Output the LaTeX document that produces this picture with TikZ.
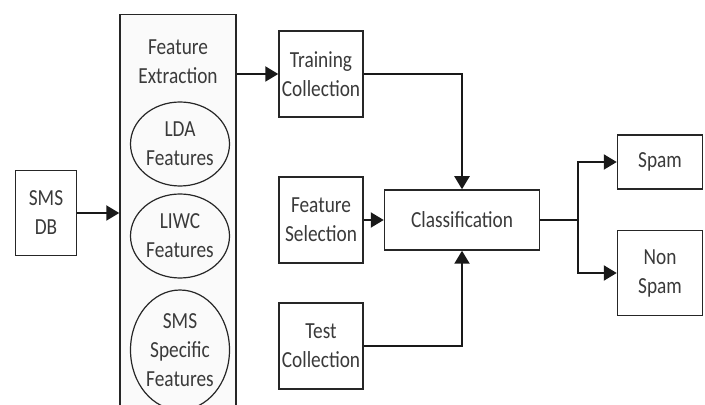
\documentclass[tikz,border=0pt]{standalone}
\usepackage{fontspec}
\setmainfont[FakeStretch=0.84]{Carlito}
\usepackage{tikz}
\usetikzlibrary{arrows.meta, positioning, calc, shapes.geometric}

\definecolor{txtgray}{HTML}{3A3A3A}

\begin{document}
\begin{tikzpicture}[x=0.5pt, y=-0.5pt,
	every node/.style={font=\fontsize{11.5}{14.5}\selectfont, text=txtgray, align=center},
	box/.style={draw=black!85, line width=0.75pt, fill=white, inner sep=1pt},
	oval/.style={draw=black!85, ellipse, line width=0.6pt, inner sep=0pt, minimum width=49.5pt},
	flow/.style={draw=black!90, line width=1.1pt, -{Triangle[length=6.5pt, width=7.5pt]}},
	wire/.style={draw=black!90, line width=1.1pt}]
	\useasboundingbox[fill=white] (0,0) rectangle (705,405);
	% input and feature panel
	\node[box, minimum width=30.5pt, minimum height=42.5pt] (smsdb) at (46,213) {SMS\\DB};
	\node[box, fill=gray!4, minimum width=58pt, minimum height=205pt, anchor=north] (fe) at (178,14) {};
	\node (fetitle) at (178,62) {Feature\\Extraction};
	\node[oval, minimum height=42pt] (lda) at (180,144) {LDA\\Features};
	\node[oval, minimum height=42pt] (liwc) at (180,236) {LIWC\\Features};
	\node[oval, minimum height=60pt] (smsspec) at (180,350) {SMS\\Specific\\Features};
	% collections
	\node[box, minimum width=42pt, minimum height=43pt] (train) at (321,74) {Training\\Collection};
	\node[box, minimum width=42pt, minimum height=43pt] (fsel) at (321,220) {Feature\\Selection};
	\node[box, minimum width=42pt, minimum height=43pt] (test) at (321,346) {Test\\Collection};
	% classifier and outputs
	\node[box, minimum width=77.5pt, minimum height=30pt] (cls) at (462,220) {Classification};
	\node[box, minimum width=42.5pt, minimum height=27pt] (spam) at (660,162) {Spam};
	\node[box, minimum width=42.5pt, minimum height=42.5pt] (nonspam) at (660,273) {Non\\Spam};
	\coordinate (split) at (578,220);

	\draw[flow] (smsdb) -- (smsdb -| fe.west);
	\draw[flow] (train.west -| fe.east) -- (train);
	\draw[flow] (train) -| (cls);
	\draw[flow] (test) -| (cls);
	\draw[flow] (fsel) -- (cls);
	\draw[wire] (cls) -- (split);
	\draw[flow] (split) |- (spam);
	\draw[flow] (split) |- (nonspam);
\end{tikzpicture}
\end{document}
